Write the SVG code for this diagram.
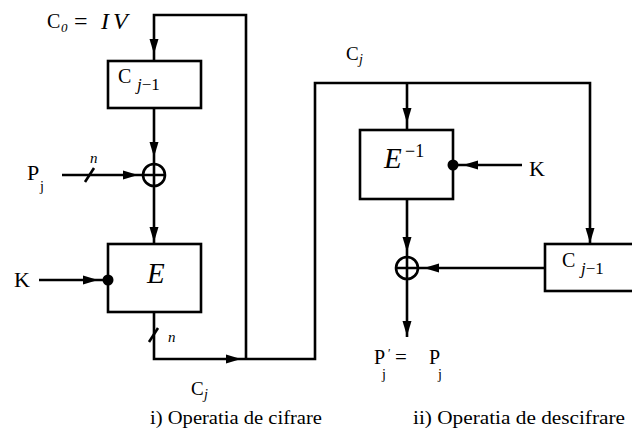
<svg xmlns="http://www.w3.org/2000/svg" xmlns:xlink="http://www.w3.org/1999/xlink" width="632" height="436" viewBox="0 0 632 436" font-family="'Liberation Serif', 'Times New Roman', Tinos, 'Noto Serif', 'DejaVu Serif', FreeSerif, serif">
<style>
.ln{fill:none;stroke:#000;stroke-width:2.6;}
.bx{fill:#fff;stroke:#000;stroke-width:2.6;}
.ah{fill:#000;stroke:none;}
.dot{fill:#000;}
text{font-family:'Liberation Serif','Times New Roman',Tinos,'Noto Serif','DejaVu Serif',FreeSerif,serif;fill:#000;}
.it{font-style:italic;}
</style>
<defs>
<path id="ah" class="ah" d="M0,0 L-15,-4.5 L-15,4.5 Z"/>
</defs>
<rect width="632" height="436" fill="#fff"/>

<g id="connectors">
<path class="ln" d="M154,61 V15 H246 V359"/>
<path class="ln" d="M154,312 V359 H315 V83 H590 V244"/>
<path class="ln" d="M407,83 V130"/>
<path class="ln" d="M154,108 V164"/>
<path class="ln" d="M154,186 V244"/>
<path class="ln" d="M62,175 H143"/>
<path class="ln" d="M39,280 H103"/>
<path class="ln" d="M522,165 H458"/>
<path class="ln" d="M407,199 V257"/>
<path class="ln" d="M545,268 H418"/>
<path class="ln" d="M407,279 V337"/>
<path class="ln" d="M85,182 L94,168"/>
<path class="ln" d="M149,342 L158,328"/>
<use xlink:href="#ah" transform="translate(154,54) rotate(90)"/>
<use xlink:href="#ah" transform="translate(154,157) rotate(90)"/>
<use xlink:href="#ah" transform="translate(154,242) rotate(90)"/>
<use xlink:href="#ah" transform="translate(138,175)"/>
<use xlink:href="#ah" transform="translate(98,280)"/>
<use xlink:href="#ah" transform="translate(241,359)"/>
<use xlink:href="#ah" transform="translate(407,123) rotate(90)"/>
<use xlink:href="#ah" transform="translate(590,243) rotate(90)"/>
<use xlink:href="#ah" transform="translate(463,165) rotate(180)"/>
<use xlink:href="#ah" transform="translate(407,252) rotate(90)"/>
<use xlink:href="#ah" transform="translate(424,268) rotate(180)"/>
<use xlink:href="#ah" transform="translate(407,336) rotate(90)"/>
</g>

<g id="node-c0-label">
<text x="47" y="28" font-size="20">C</text>
<text x="61" y="32" font-size="13" class="it">0</text>
<text x="74" y="29" font-size="24">=</text>
<text x="101" y="29" font-size="24" class="it" letter-spacing="4">IV</text>
</g>

<g id="node-cprev-enc">
<rect class="bx" x="108" y="61" width="93" height="47"/>
<text x="118" y="83" font-size="20">C</text>
<text x="137" y="90" font-size="17"><tspan class="it">j</tspan>−1</text>
</g>

<g id="node-xor-enc">
<circle class="bx" cx="154" cy="175" r="11"/>
<path class="ln" d="M143,175 H165 M154,164 V186"/>
</g>

<g id="node-pj">
<text x="27" y="180" font-size="22">P</text>
<text x="40" y="191" font-size="14">j</text>
<text x="90" y="163" font-size="15" class="it">n</text>
</g>

<g id="node-e">
<rect class="bx" x="108" y="244" width="93" height="68"/>
<text x="147" y="283" font-size="29" class="it">E</text>
</g>

<g id="node-k-enc">
<text x="14" y="287" font-size="22">K</text>
<circle class="dot" cx="108" cy="280" r="5.5"/>
</g>

<g id="node-n-out">
<text x="168" y="342" font-size="15" class="it">n</text>
</g>

<g id="node-cj-enc">
<text x="191" y="395" font-size="19">C</text>
<text x="204" y="399" font-size="14" class="it">j</text>
</g>

<g id="node-cj-dec">
<text x="346" y="60" font-size="19">C</text>
<text x="359" y="64" font-size="14" class="it">j</text>
</g>

<g id="node-einv">
<rect class="bx" x="360" y="130" width="93" height="69"/>
<text x="384" y="168" font-size="29" class="it">E</text>
<text x="405" y="157" font-size="18">−1</text>
</g>

<g id="node-k-dec">
<text x="529" y="176" font-size="22">K</text>
<circle class="dot" cx="453" cy="165" r="5.5"/>
</g>

<g id="node-cprev-dec">
<rect class="bx" x="545" y="244" width="100" height="47"/>
<text x="562" y="267" font-size="20">C</text>
<text x="581" y="274" font-size="17"><tspan class="it">j</tspan>−1</text>
</g>

<g id="node-xor-dec">
<circle class="bx" cx="407" cy="268" r="11"/>
<path class="ln" d="M396,268 H418 M407,257 V279"/>
</g>

<g id="node-pj-out">
<text x="374" y="364" font-size="20">P</text>
<text x="388" y="357" font-size="12">′</text>
<text x="382" y="379" font-size="14">j</text>
<text x="395" y="364" font-size="21">=</text>
<text x="429" y="364" font-size="20">P</text>
<text x="438" y="379" font-size="14">j</text>
</g>

<g id="captions">
<text x="150" y="424" font-size="19" textLength="172" lengthAdjust="spacingAndGlyphs">i) Operatia de cifrare</text>
<text x="413" y="424" font-size="19" textLength="212" lengthAdjust="spacingAndGlyphs">ii) Operatia de descifrare</text>
</g>
</svg>
